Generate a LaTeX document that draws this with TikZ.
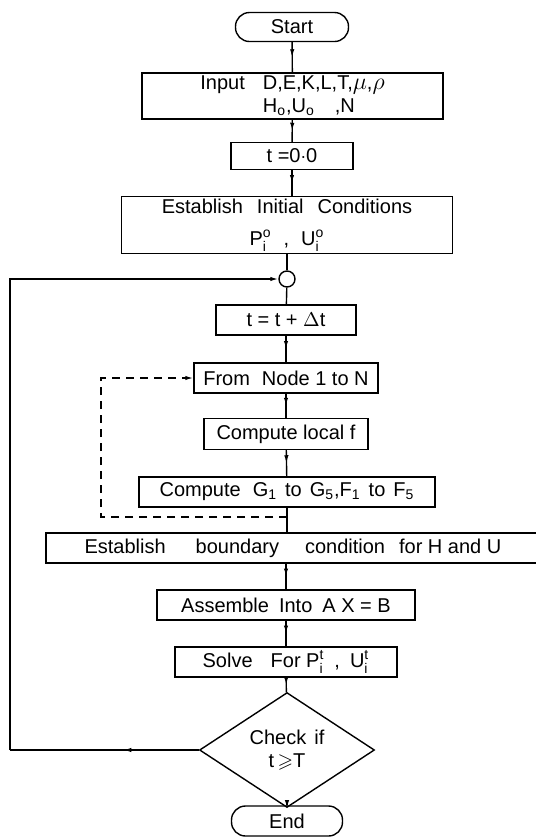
\documentclass[tikz,border=0pt]{standalone}
\usepackage{fontspec}
\setmainfont{Liberation Sans}
\usepackage{amssymb}
\usetikzlibrary{arrows.meta,shapes.geometric,decorations.markings}

\begin{document}
\begin{tikzpicture}[
  x=0.5pt, y=-0.5pt,
  font=\fontsize{10}{11.5}\selectfont,
  line width=0.7pt,
  >={Latex[length=4pt,width=2.2pt]},
  box/.style={draw, align=center, inner sep=1pt, minimum height=15pt},
  term/.style={box, rounded corners=7pt},
  decision/.style={draw, diamond, align=center, inner sep=0pt,
                   minimum width=87.5pt, minimum height=35pt},
  knot/.style={draw, circle, minimum size=8pt, inner sep=0pt},
  flow/.style={postaction={decorate}, decoration={markings,
               mark=at position #1 with {\arrow{>}}}},
  flow/.default=0.5
]
\useasboundingbox (0,0) rectangle (536,837);

% ---------- set-up ----------
\node[term, minimum width=56.5pt, minimum height=14.5pt] (start) at (292,27) {Start};
\node[box, minimum width=150.5pt, minimum height=21pt, inner ysep=0pt] (input) at (292.5,96)
  {\begin{tabular}{@{}l@{\hspace{9pt}}l@{}}
     Input & D,E,K,L,T,{\large$\mu$},{\large$\rho$}\\
           & H\textsubscript{o},U\textsubscript{o}\hspace{10pt},N
   \end{tabular}};
\node[box, minimum width=61pt, minimum height=13.5pt] (t0) at (292,156) {t =0$\cdot$0};
\node[box, minimum width=165.5pt, minimum height=27pt] (init) at (287,225)
  {Establish\hspace{7pt}Initial\hspace{7pt}Conditions\\[4.5pt]$\mathrm{P}^{\mathrm{o}}_{\mathrm{i}}$\hspace{6pt},\hspace{6pt}$\mathrm{U}^{\mathrm{o}}_{\mathrm{i}}$};
\node[knot] (knot) at (287,279) {};

% ---------- time loop ----------
\node[box, minimum width=70pt] (tinc) at (286,320) {t = t + $\Delta$t};
\node[box, minimum width=92pt] (loop) at (286,378) {From\hspace{6pt}Node 1 to N};
\node[box, minimum width=82pt, minimum height=15.5pt] (fric) at (286,434) {Compute local f};
\node[box, minimum width=148pt] (coef) at (287,492)
  {Compute\hspace{6pt}G\textsubscript{1}\hspace{4pt}to\hspace{4pt}G\textsubscript{5},F\textsubscript{1}\hspace{4pt}to\hspace{4pt}F\textsubscript{5}};
\node[box, minimum width=247pt] (bound) at (293,548)
  {Establish\hspace{15pt}boundary\hspace{13pt}condition\hspace{7pt}for H and U};
\node[box, minimum width=129pt] (asm) at (286,605) {Assemble\hspace{5pt}Into\hspace{5pt}A X = B};
\node[box, minimum width=111pt] (solve) at (286,662)
  {Solve\hspace{9pt}For $\mathrm{P}^{\mathrm{t}}_{\mathrm{i}}$\hspace{5pt},\hspace{5pt}$\mathrm{U}^{\mathrm{t}}_{\mathrm{i}}$};
\node[decision] (check) at (287,750) {Check\hspace{4pt}if\\t\,$\geqslant$T};
\node[term, minimum width=55.5pt] (end) at (287,821) {End};

% ---------- main line ----------
\draw[flow] (start) -- (input);
\draw[flow] (input) -- (t0);
\draw[flow] (t0.south) -- (t0.south |- init.north);
\draw (init) -- (knot);
\draw (knot) -- (tinc);
\draw[flow] (tinc) -- (loop);
\draw[flow] (loop) -- (fric);
\draw[flow] (fric) -- (coef);
\draw (coef.south) -- (coef.south |- bound.north);
\draw[flow] (bound.south -| asm.north) -- (asm);
\draw[flow] (asm) -- (solve);
\draw[flow] (solve) -- (check);
\draw[->] (end) -- (check);

% node loop (dashed) and time loop back to the junction
\coordinate (dj) at (287,517);
\coordinate (dl) at (101,517);
\draw[dashed, dash pattern=on 4pt off 3pt, ->] (dj) -- (dl) |- (loop.west);

\coordinate (fb) at (10,750);
\draw[flow=0.4] (check.west) -- (fb);
\draw[->] (fb) |- (knot.west);

\end{tikzpicture}
\end{document}
